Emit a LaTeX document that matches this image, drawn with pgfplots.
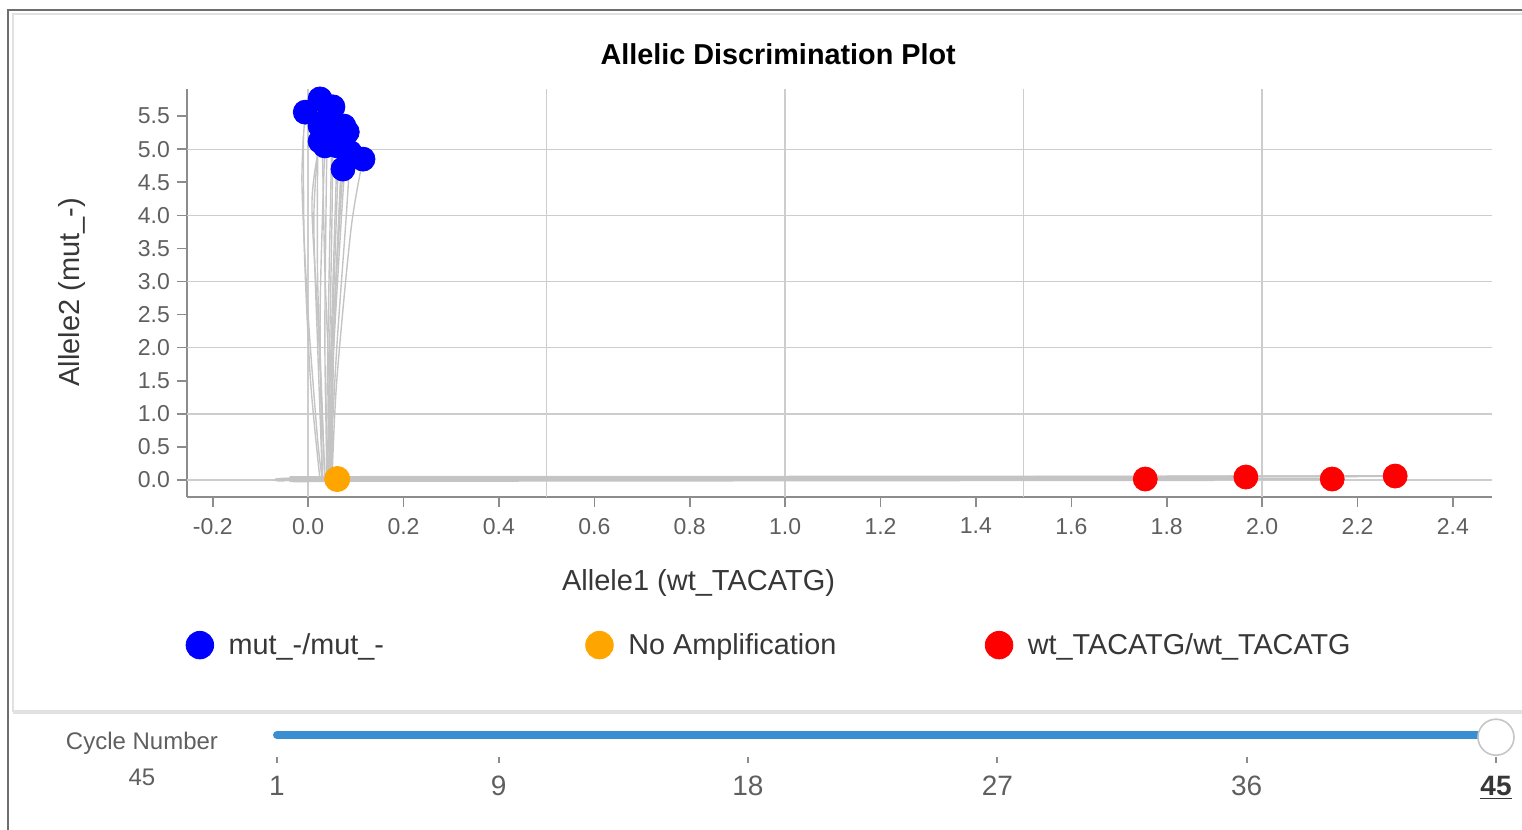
\documentclass[border=0pt]{standalone}
\usepackage{pgfplots}
\pgfplotsset{compat=1.18}
\usepackage{fontspec}
\setmainfont{Liberation Sans}
\definecolor{ptblue}{RGB}{0,0,255}
\definecolor{ptorange}{RGB}{255,165,0}
\definecolor{ptred}{RGB}{255,0,0}
\definecolor{sliderblue}{RGB}{58,143,210}
\definecolor{tickgray}{RGB}{95,95,95}
\definecolor{labelgray}{RGB}{55,55,55}
\definecolor{gridgray}{RGB}{205,205,205}
\definecolor{axisgray}{RGB}{140,140,140}
\definecolor{trajgray}{RGB}{196,196,196}
\definecolor{framegray}{RGB}{110,110,110}
\definecolor{panelgray}{RGB}{225,225,225}
\begin{document}
\begin{tikzpicture}[x=1pt,y=1pt]
\useasboundingbox (0,0) rectangle (761,-415);
% screenshot frame and panel
\draw[draw=panelgray, line width=1.2pt] (6.5,-356) -- (6.5,-7) -- (766,-7);
\draw[draw=panelgray, line width=2pt] (6.5,-356) -- (766,-356);
\draw[draw=framegray, line width=1pt] (4,-416) -- (4,-5) -- (766,-5);

\begin{axis}[
  at={(93.5pt,-248.5pt)}, anchor=south west,
  scale only axis, width=652.5pt, height=204pt,
  xmin=-0.254, xmax=2.482, ymin=-0.257, ymax=5.91,
  axis x line*=bottom, axis y line*=left,
  axis line style={draw=axisgray, line width=1pt},
  xtick={-0.2,0,0.2,0.4,0.6,0.8,1.0,1.2,1.4,1.6,1.8,2.0,2.2,2.4},
  ytick={0,0.5,1,1.5,2,2.5,3,3.5,4,4.5,5,5.5},
  tick align=outside, major tick length=5pt,
  tick style={draw=axisgray, line width=0.8pt},
  extra x ticks={0,0.5,1,1.5,2}, extra x tick labels={},
  extra y ticks={0,1,2,3,4,5}, extra y tick labels={},
  extra tick style={grid=major, major tick length=0pt},
  major grid style={draw=gridgray, line width=0.7pt},
  ticklabel style={font=\fontsize{11.5}{13}\selectfont, text=tickgray},
  xticklabel style={yshift=-2pt},
  /pgf/number format/.cd, fixed, fixed zerofill, precision=1, assume math mode=true, /pgfplots/.cd,
  title={\textbf{Allelic Discrimination Plot}},
  every axis title/.style={at={(axis description cs:0.453,1.086)}, anchor=center, font=\fontsize{14.4}{16}\selectfont, text=black},
  xlabel={Allele1 (wt\_TACATG)},
  ylabel={Allele2 (mut\_-)},
  every axis x label/.style={at={(axis description cs:0.392,-0.211)}, anchor=center, font=\fontsize{14.5}{16}\selectfont, text=labelgray},
  every axis y label/.style={at={(axis description cs:-0.0881,0.502)}, rotate=90, anchor=center, font=\fontsize{14.5}{16}\selectfont, text=labelgray},
  clip=false,
  legend columns=3,
  legend style={at={(axis description cs:-0.0007,-0.363)}, anchor=west, draw=none, fill=none,
    inner sep=0pt, outer sep=0pt, nodes={inner sep=3pt},
    font=\fontsize{14.4}{16}\selectfont, text=labelgray},
  legend cell align=left,
  legend image code/.code={\draw[mark repeat=2, mark phase=2, #1, mark size=6.9pt] plot coordinates {(0pt,0pt)(7pt,0pt)(14pt,0pt)};},
]
% amplification trajectories (grey)
\pgfplotsset{traj/.style={forget plot, color=trajgray, line width=0.7pt, mark=none, smooth}}
\addplot[traj] coordinates {(0.03,0) (0.02,0.6) (0.0,2.5) (-0.013,4.5) (-0.006,5.56)};
\addplot[traj] coordinates {(0.035,0) (0.03,1.0) (0.02,3.0) (0.02,4.8) (0.025,5.76)};
\addplot[traj] coordinates {(0.04,0) (0.045,2.0) (0.05,4.0) (0.052,5.64)};
\addplot[traj] coordinates {(0.03,0) (0.02,2.0) (0.012,4.0) (0.025,5.35)};
\addplot[traj] coordinates {(0.045,0) (0.05,1.5) (0.07,4.0) (0.082,5.26)};
\addplot[traj] coordinates {(0.035,0) (0.02,2.5) (0.008,4.2) (0.025,5.12)};
\addplot[traj] coordinates {(0.04,0) (0.05,2.5) (0.061,5.05)};
\addplot[traj] coordinates {(0.05,0) (0.06,1.5) (0.09,3.8) (0.115,4.85)};
\addplot[traj] coordinates {(0.045,0) (0.055,2.5) (0.073,4.70)};
\addplot[traj] coordinates {(0.045,0) (0.06,2.0) (0.08,4.0) (0.088,4.95)};
\addplot[traj] coordinates {(0.04,0) (0.035,2.2) (0.04,5.45)};
\addplot[traj] coordinates {(0.045,0) (0.05,2.0) (0.065,5.15)};
\addplot[traj] coordinates {(0.03,0) (0.025,2.5) (0.035,5.05)};
\addplot[traj] coordinates {(0.05,0) (0.055,2.5) (0.075,5.35)};
\addplot[traj] coordinates {(0.025,0) (0.005,1.5) (-0.008,3.5) (-0.01,5.2)};
\addplot[traj] coordinates {(0.038,0) (0.04,1.5) (0.045,3.5) (0.05,5.3)};
\addplot[traj] coordinates {(0.042,0) (0.045,1.2) (0.035,3.2) (0.03,5.0)};
\addplot[traj] coordinates {(0.048,0) (0.052,1.8) (0.062,3.6) (0.07,4.9)};
% wild-type trajectories along the x axis
\addplot[traj, smooth=false, line width=1pt] coordinates {(-0.055,0.0) (0.05,0.0) (1.0,0.01) (1.755,0.015)};
\addplot[traj, smooth=false, line width=1pt] coordinates {(-0.05,0.01) (0.05,0.02) (1.0,0.03) (1.966,0.045)};
\addplot[traj, smooth=false, line width=1pt] coordinates {(-0.05,-0.01) (0.05,0.0) (1.2,0.01) (2.147,0.015)};
\addplot[traj, smooth=false, line width=1pt] coordinates {(-0.05,0.0) (0.05,0.03) (1.2,0.04) (2.279,0.06)};
\addplot[traj, smooth=false, line width=1pt] coordinates {(0.0,-0.02) (0.05,-0.015) (1.2,-0.005) (1.9,0.0)};
\addplot[traj, smooth=false, line width=1pt] coordinates {(0.0,0.04) (0.05,0.045) (1.2,0.05) (2.2,0.055)};

% genotype calls
\addplot[only marks, mark=*, color=ptblue, mark size=6pt, mark options={draw=ptblue, fill=ptblue}] coordinates {
  (-0.006,5.56) (0.025,5.76) (0.052,5.64) (0.025,5.35) (0.082,5.26) (0.025,5.12)
  (0.061,5.05) (0.115,4.85) (0.073,4.70) (0.088,4.95) (0.040,5.45) (0.065,5.15)
  (0.035,5.05) (0.075,5.35)};
\addlegendentry{\makebox[180pt][l]{\hspace{4.5pt}mut\_-/mut\_-}}
\addplot[only marks, mark=*, color=ptorange, mark size=6.3pt, mark options={draw=ptorange, fill=ptorange}] coordinates {(0.061,0.015)};
\addlegendentry{\makebox[180pt][l]{\hspace{4.5pt}No Amplification}}
\addplot[only marks, mark=*, color=ptred, mark size=6pt, mark options={draw=ptred, fill=ptred}] coordinates {
  (1.755,0.015) (1.966,0.045) (2.147,0.015) (2.279,0.06)};
\addlegendentry{\makebox[180pt][l]{\hspace{4.5pt}wt\_TACATG/wt\_TACATG}}
\end{axis}

% cycle number slider
\node[font=\fontsize{12}{14}\selectfont, text=tickgray] at (71,-371.5) {Cycle Number};
\node[font=\fontsize{12}{14}\selectfont, text=tickgray] at (71,-388.5) {45};
\begin{axis}[
  at={(138.5pt,-378.5pt)}, anchor=south west,
  scale only axis, width=609.5pt, height=11pt,
  xmin=1, xmax=45, ymin=0, ymax=1,
  axis x line*=bottom, axis y line=none,
  x axis line style={draw=none},
  xtick={1,9,18,27,36,45},
  xticklabels={1,9,18,27,36,{\color{labelgray}\textbf{\underline{45}}}},
  tick align=outside, major tick length=3pt,
  tick style={draw=axisgray, line width=1pt},
  xticklabel style={font=\fontsize{14}{16}\selectfont, text=tickgray, yshift=-3pt},
  clip=false,
]
\addplot[color=sliderblue, line width=4pt, line cap=round, mark=none] coordinates {(1,1) (45,1)};
\addplot[only marks, mark=*, mark size=9pt, mark options={fill=white, draw=gray!45, line width=0.8pt}] coordinates {(45,0.9)};
\end{axis}
\end{tikzpicture}
\end{document}
